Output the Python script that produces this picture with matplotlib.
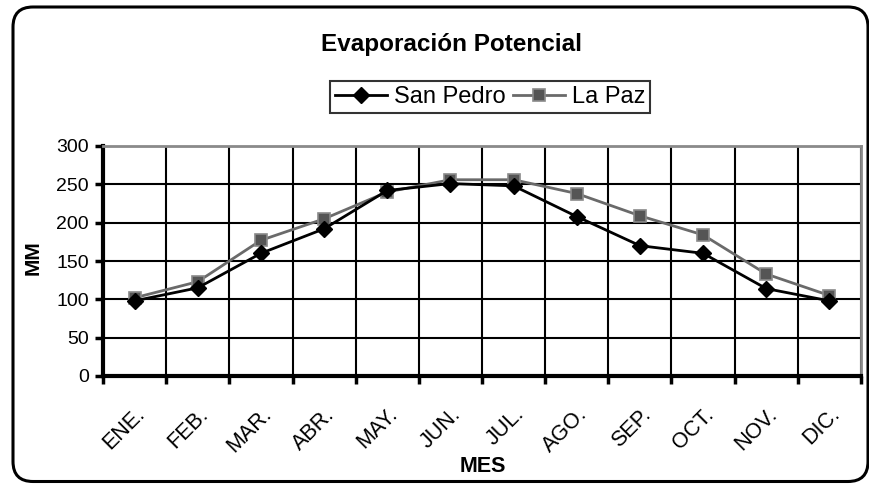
import matplotlib
matplotlib.use("Agg")
import matplotlib.pyplot as plt
from matplotlib.patches import FancyBboxPatch
from matplotlib.transforms import ScaledTranslation

# monthly potential evaporation (mm)
meses = ['ENE.', 'FEB.', 'MAR.', 'ABR.', 'MAY.', 'JUN.', 'JUL.', 'AGO.', 'SEP.', 'OCT.', 'NOV.', 'DIC.']
san_pedro = [98, 115, 160, 192, 242, 251, 248, 208, 170, 160, 114, 98]
la_paz = [102, 123, 177, 205, 240, 256, 256, 238, 209, 184, 133, 105]

plt.rcParams['font.family'] = ['Liberation Sans', 'DejaVu Sans']

fig = plt.figure(figsize=(8.7, 4.84), dpi=100)
ax = fig.add_axes([103 / 870, 1 - 376 / 484, (861 - 103) / 870, (376 - 146) / 484])

x = list(range(1, len(meses) + 1))
ax.plot(x, san_pedro, color='black', lw=2, marker='D', markersize=8.5,
        markerfacecolor='black', markeredgecolor='black', label='San Pedro', zorder=4)
ax.plot(x, la_paz, color='#6a6a6a', lw=2, marker='s', markersize=8.5,
        markerfacecolor='#555555', markeredgecolor='#8a8a8a', markeredgewidth=1.2,
        label='La Paz', zorder=3)

ax.set_xlim(0.5, len(meses) + 0.5)
ax.set_ylim(0, 300)
ax.set_yticks(range(0, 301, 50))
ax.set_xticks([i + 0.5 for i in range(len(meses) + 1)])
ax.set_xticklabels([])
ax.set_xticks(x, minor=True)
ax.set_xticklabels(meses, minor=True, rotation=45, ha='right', va='top',
                   rotation_mode='anchor', fontsize=15.5)
shift = ScaledTranslation(-6 / 100, 0, fig.dpi_scale_trans)
for lab in ax.get_xticklabels(minor=True):
    lab.set_transform(lab.get_transform() + shift)
ax.tick_params(axis='x', which='minor', length=0, pad=20)
ax.tick_params(axis='x', which='major', direction='out', length=6, width=2.5)
ax.tick_params(axis='y', direction='out', length=6, width=2.5, labelsize=14, pad=4)

ax.grid(True, which='major', color='black', lw=1.5)
ax.set_axisbelow(True)
for s in ['left', 'bottom']:
    ax.spines[s].set_linewidth(3)
    ax.spines[s].set_color('black')
for s in ['top', 'right']:
    ax.spines[s].set_linewidth(2)
    ax.spines[s].set_color('#8a8a8a')

fig.text(452 / 870, 1 - 45 / 484, 'Evaporación Potencial', ha='center', va='center',
         fontsize=17.5, fontweight='bold')
fig.text(33 / 870, 1 - 258 / 484, 'MM', ha='center', va='center', rotation=90,
         fontsize=15, fontweight='bold')
fig.text(483 / 870, 1 - 467 / 484, 'MES', ha='center', va='center',
         fontsize=15.5, fontweight='bold')

leg = fig.legend(loc='center', bbox_to_anchor=(490 / 870, 1 - 97 / 484), ncol=2,
                 fontsize=17, frameon=True, fancybox=False, handlelength=2.2,
                 handletextpad=0.3, columnspacing=0.3, borderpad=0.2,
                 borderaxespad=0)
leg.get_frame().set_edgecolor('black')
leg.get_frame().set_linewidth(1.5)

# rounded chart-area frame
frame = FancyBboxPatch((13 / 100, 2.5 / 100), (868 - 13) / 100, (482 - 7) / 100 - 0.005,
                       boxstyle='round,pad=0,rounding_size=0.2',
                       transform=fig.dpi_scale_trans, fill=False,
                       edgecolor='black', lw=2.2)
fig.patches.append(frame)

fig.savefig('out.png', dpi=100)
